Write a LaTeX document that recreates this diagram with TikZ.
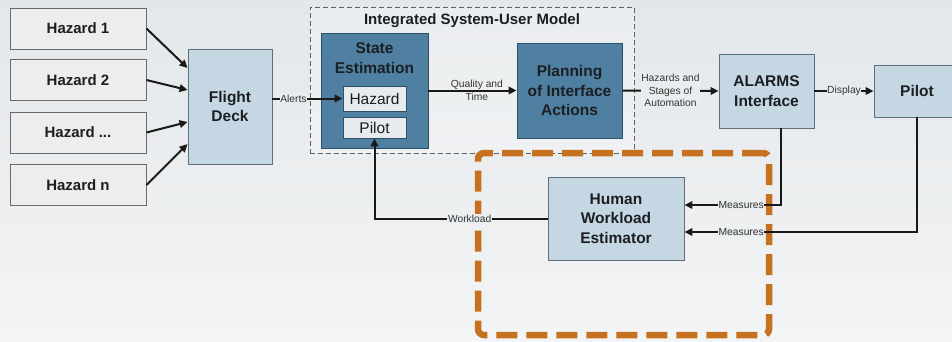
\documentclass[tikz,border=0pt]{standalone}
\usepackage{fontspec}
\setmainfont{Liberation Sans}
\usetikzlibrary{arrows.meta,calc}
\definecolor{bgtop}{HTML}{E3E7EA}
\definecolor{bgbot}{HTML}{F3F4F5}
\definecolor{bgmid}{HTML}{EAEDEF}
\definecolor{lblue}{HTML}{C6D7E4}
\definecolor{lbluebd}{HTML}{5E6E7A}
\definecolor{dblue}{HTML}{4F7FA1}
\definecolor{dbluebd}{HTML}{2E4F68}
\definecolor{hzfill}{HTML}{EDEDED}
\definecolor{hzbd}{HTML}{6B6B6B}
\definecolor{inner}{HTML}{E8EBEE}
\definecolor{orng}{HTML}{C6711F}
\definecolor{txt}{HTML}{1C1F22}
\begin{document}
\begin{tikzpicture}[x=1pt,y=-1pt,
  hzbox/.style={draw=hzbd,fill=hzfill,line width=0.9pt,inner sep=0pt,
    minimum width=136pt,minimum height=41pt,text=txt,
    font=\bfseries\fontsize{15}{17}\selectfont},
  lbox/.style={draw=lbluebd,fill=lblue,line width=0.9pt,inner sep=0pt,
    align=center,text=txt,font=\bfseries\fontsize{15.5}{19.5}\selectfont},
  dbox/.style={draw=dbluebd,fill=dblue,line width=0.9pt,inner sep=0pt},
  dtext/.style={align=center,text=txt,inner sep=0pt,
    font=\bfseries\fontsize{15.5}{19.5}\selectfont},
  ibox/.style={draw=dbluebd,fill=inner,line width=0.9pt,inner sep=0pt,
    minimum width=63pt,text=txt,font=\fontsize{15.5}{18}\selectfont},
  arr/.style={line width=2pt,draw=black!90,-{Triangle[length=8pt,width=7.5pt]}},
  lab/.style={font=\fontsize{10.3}{12.5}\selectfont,text=black!80,inner sep=0.6pt,
    fill=bgmid,align=center},
  labnf/.style={font=\fontsize{10.3}{12.5}\selectfont,text=black!80,inner sep=0pt,
    align=center}
]
\shade[top color=bgtop,bottom color=bgbot] (0,0) rectangle (952,341);
\useasboundingbox (0,0) rectangle (952,341);

% integrated model frame
\node[draw=gray!75!black,dashed,dash pattern=on 5pt off 3pt,line width=0.9pt,
  fill=white,fill opacity=0.25,minimum width=324pt,minimum height=146pt,inner sep=0pt]
  (ism) at (472,80) {};
\node[text=txt,font=\bfseries\fontsize{15}{17}\selectfont,inner sep=0pt]
  (ismt) at (472,21) {Integrated System-User Model};

% orange frame
\node[draw=orng,line width=6.5pt,dash pattern=on 21pt off 9pt,rounded corners=6pt,
  minimum width=291pt,minimum height=182pt,inner sep=0pt] (frame) at (623.5,244) {};

% hazards
\node[hzbox] (h1) at (78,28.5) {Hazard 1};
\node[hzbox] (h2) at (78,80) {Hazard 2};
\node[hzbox] (h3) at (78,132.5) {Hazard ...};
\node[hzbox] (h4) at (78,185) {Hazard n};

% flight deck
\node[lbox,minimum width=84pt,minimum height=115pt] (fd) at (230,106.5) {Flight\\Deck};

% state estimation
\node[dbox,minimum width=107pt,minimum height=115pt] (se) at (374.5,90.5) {};
\node[dtext] (setxt) at (374.5,58) {State\\Estimation};
\node[ibox,minimum height=25pt] (hz) at (374.5,98.5) {Hazard};
\node[ibox,minimum height=21pt] (pi) at (374.5,127.5) {Pilot};

% planning
\node[dbox,minimum width=105pt,minimum height=95pt] (pl) at (569.5,90.5) {};
\node[dtext] (pltxt) at (569.5,90.5) {Planning\\of Interface\\Actions};

% alarms
\node[lbox,minimum width=95pt,minimum height=74pt] (al) at (766.5,91) {ALARMS\\Interface};

% pilot
\node[lbox,minimum width=86pt,minimum height=52pt] (pt) at (917,91) {};
\node[dtext] (pttxt) at (917,91) {Pilot};

% human workload estimator
\node[lbox,minimum width=136pt,minimum height=83pt] (hwe) at (616,218.5) {Human\\Workload\\Estimator};

% connectors
\draw[arr] (h1.east) -- ([yshift=38.5pt]fd.west);
\draw[arr] (h2.east) -- ([yshift=16.5pt]fd.west);
\draw[arr] (h3.east) -- ([yshift=-15.5pt]fd.west);
\draw[arr] (h4.east) -- ([yshift=-37.5pt]fd.west);

\draw[arr] (fd.east |- hz.west) -- node[lab,pos=0.3] {Alerts} (hz.west);
\draw[arr] (se.east) -- node[labnf,pos=0.55] {Quality and\\[0.5pt]Time} (pl.west);
\draw[arr] (pl.east) -- node[lab,pos=0.5] {Hazards and\\Stages of\\Automation} (al.west);
\draw[arr] (al.east) -- node[lab,pos=0.5] {Display} (pt.west);

\draw[arr] ([xshift=14.5pt]al.south) |- node[lab,pos=0.706] {Measures} ([yshift=13.5pt]hwe.east);
\draw[arr] (pt.south) |- node[lab,pos=0.878] {Measures} ([yshift=-13.5pt]hwe.east);
\draw[arr] (hwe.west) -| node[lab,pos=0.225] {Workload} (pi.south);
\end{tikzpicture}
\end{document}
